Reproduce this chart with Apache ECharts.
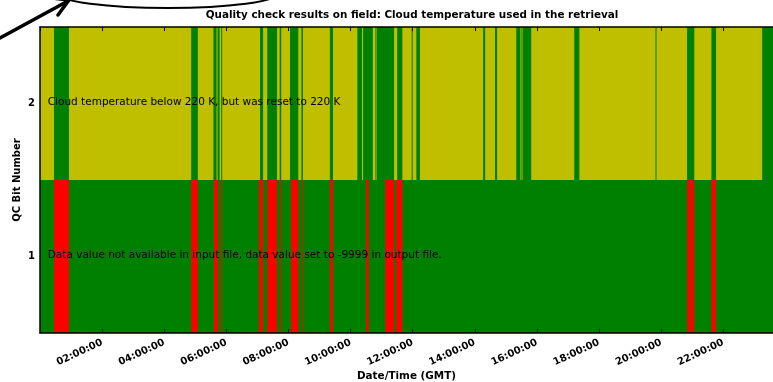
<!DOCTYPE html>
<html>
<head>
<meta charset="utf-8">
<script src="https://cdn.jsdelivr.net/npm/echarts@6/dist/echarts.min.js"></script>
<style>
  html, body { margin: 0; padding: 0; background: #fff; }
  #chart { width: 773px; height: 382px; }
</style>
</head>
<body>
<div id="chart"></div>
<script>
// QC bit rows (bottom to top)
const bitRows = ["1", "2"];
const bitDescriptions = [
  "Data value not available in input file, data value set to -9999 in output file.",
  "Cloud temperature below 220 K, but was reset to 220 K",
];
const dayStart = "00:00";
const viewEnd = "23:36"; // the picture is cut off on the right
const dataEnd = "24:00";
const descriptionStart = "00:15";

// bit 2: spans where the test is NOT flagged (green on the yellow row)
const bit2PassSpans = [
  ["00:27", "00:56"], ["04:52", "05:05"], ["05:35", "05:41"], ["05:43", "05:47"],
  ["05:50", "05:52"], ["07:05", "07:11"], ["07:19", "07:38"], ["07:43", "07:46"],
  ["08:03", "08:19"], ["08:25", "08:28"], ["09:20", "09:26"], ["10:13", "10:22"],
  ["10:24", "10:43"], ["10:48", "10:50"], ["10:51", "11:24"], ["11:30", "11:40"],
  ["11:58", "12:00"], ["12:07", "12:14"], ["14:16", "14:20"], ["14:39", "14:43"],
  ["15:20", "15:28"], ["15:30", "15:32"], ["15:33", "15:49"], ["17:12", "17:22"],
  ["19:49", "19:51"], ["20:50", "21:04"], ["21:37", "21:46"], ["23:15", "24:00"],
];

// bit 1: spans where data were missing (red on the green row)
const bit1FailSpans = [
  ["00:27", "00:56"], ["04:52", "05:05"], ["05:36", "05:44"], ["05:50", "05:52"],
  ["07:03", "07:11"], ["07:19", "07:38"], ["07:44", "07:46"], ["08:05", "08:19"],
  ["08:26", "08:28"], ["09:20", "09:26"], ["10:30", "10:35"], ["11:07", "11:24"],
  ["11:28", "11:40"], ["20:50", "20:57"], ["20:58", "21:04"], ["21:37", "21:46"],
];

const xTickHours = 2;

const toHours = (s) => {
  const [h, m] = s.split(":").map(Number);
  return h + m / 60;
};
const pad = (n) => String(n).padStart(2, "0");

const FONT = "'DejaVu Sans', sans-serif";
const YELLOW = "#bfbf00";
const GREEN = "#008000";
const RED = "#ff0000";

const spanData = (spans, row) =>
  spans.map(([a, b]) => [toHours(a), toHours(b), row]);

function renderSpan(params, api) {
  const row = api.value(2);
  const p0 = api.coord([api.value(0), row]);
  const p1 = api.coord([api.value(1), row]);
  const h = api.size([0, 1])[1];
  return {
    type: "rect",
    shape: { x: p0[0], y: p0[1] - h / 2, width: p1[0] - p0[0], height: h },
    style: { fill: api.visual("color") },
  };
}

function spanSeries(data, color, z) {
  return {
    type: "custom",
    renderItem: renderSpan,
    data,
    itemStyle: { color },
    encode: { x: [0, 1], y: 2 },
    clip: true,
    z,
    silent: true,
    animation: false,
  };
}

const chart = echarts.init(document.getElementById("chart"));

const xAxisBase = {
  type: "value",
  min: toHours(dayStart),
  max: toHours(viewEnd),
  interval: xTickHours,
  z: 10,
  splitLine: { show: false },
  axisLine: { show: true, onZero: false, lineStyle: { color: "#000", width: 1.5 } },
  axisTick: { show: true, inside: true, length: 4, lineStyle: { color: "#000", width: 1 } },
};

const option = {
  backgroundColor: "#fff",
  animation: false,
  grid: { left: 40, top: 27, right: 0, bottom: 49, outerBoundsMode: "none", containLabel: false },
  graphic: [
    {
      type: "text",
      x: 412,
      y: 15,
      style: {
        text: "Quality check results on field: Cloud temperature used in the retrieval",
        font: "bold 10.4px " + FONT,
        fill: "#000",
        textAlign: "center",
        textVerticalAlign: "middle",
      },
    },
    // hand-drawn annotation at the top-left corner
    {
      type: "polyline",
      shape: { points: [[0, 38], [68, 1]] },
      style: { stroke: "#000", lineWidth: 3.5, lineCap: "round" },
    },
    {
      type: "polyline",
      shape: { points: [[58, 15], [69, 0], [52, -2]] },
      style: { stroke: "#000", lineWidth: 3.5, lineCap: "round", lineJoin: "round", fill: null },
    },
    {
      type: "ellipse",
      shape: { cx: 168, cy: -6.6, rx: 110, ry: 14.6 },
      style: { stroke: "#000", lineWidth: 2, fill: null },
    },
  ],
  xAxis: [
    {
      ...xAxisBase,
      position: "bottom",
      name: "Date/Time (GMT)",
      nameLocation: "middle",
      nameGap: 38,
      nameMoveOverlap: false,
      nameTextStyle: { fontFamily: FONT, fontWeight: "bold", fontSize: 10.4, color: "#000" },
      axisLabel: {
        rotate: 25,
        margin: 9,
        fontFamily: FONT,
        fontWeight: "bold",
        fontSize: 10,
        color: "#000",
        showMinLabel: false,
        showMaxLabel: false,
        formatter: (v) => pad(v) + ":00:00",
      },
    },
    {
      ...xAxisBase,
      position: "top",
      axisLabel: { show: false },
    },
  ],
  yAxis: {
    type: "category",
    data: bitRows,
    z: 10,
    name: "QC Bit Number",
    nameLocation: "middle",
    nameGap: 17.5,
    nameMoveOverlap: false,
    nameRotate: 90,
    nameTextStyle: { fontFamily: FONT, fontWeight: "bold", fontSize: 10, color: "#000" },
    axisLine: { show: true, lineStyle: { color: "#000", width: 1.5 } },
    axisTick: { show: false },
    axisLabel: { margin: 5, fontFamily: FONT, fontWeight: "bold", fontSize: 10, color: "#000" },
    splitLine: { show: false },
  },
  series: [
    spanSeries([[toHours(dayStart), toHours(dataEnd), 1]], YELLOW, 1),
    spanSeries([[toHours(dayStart), toHours(dataEnd), 0]], GREEN, 1),
    spanSeries(spanData(bit2PassSpans, 1), GREEN, 2),
    spanSeries(spanData(bit1FailSpans, 0), RED, 2),
    {
      type: "custom",
      z: 5,
      silent: true,
      animation: false,
      data: bitDescriptions.map((t, i) => [toHours(descriptionStart), i]),
      encode: { x: 0, y: 1 },
      renderItem: (params, api) => {
        const p = api.coord([api.value(0), api.value(1)]);
        return {
          type: "text",
          x: p[0],
          y: p[1] - 1.5,
          style: {
            text: bitDescriptions[params.dataIndex],
            font: "10.5px " + FONT,
            fill: "#000",
            textAlign: "left",
            textVerticalAlign: "middle",
          },
        };
      },
    },
  ],
};

chart.setOption(option);
</script>
</body>
</html>
